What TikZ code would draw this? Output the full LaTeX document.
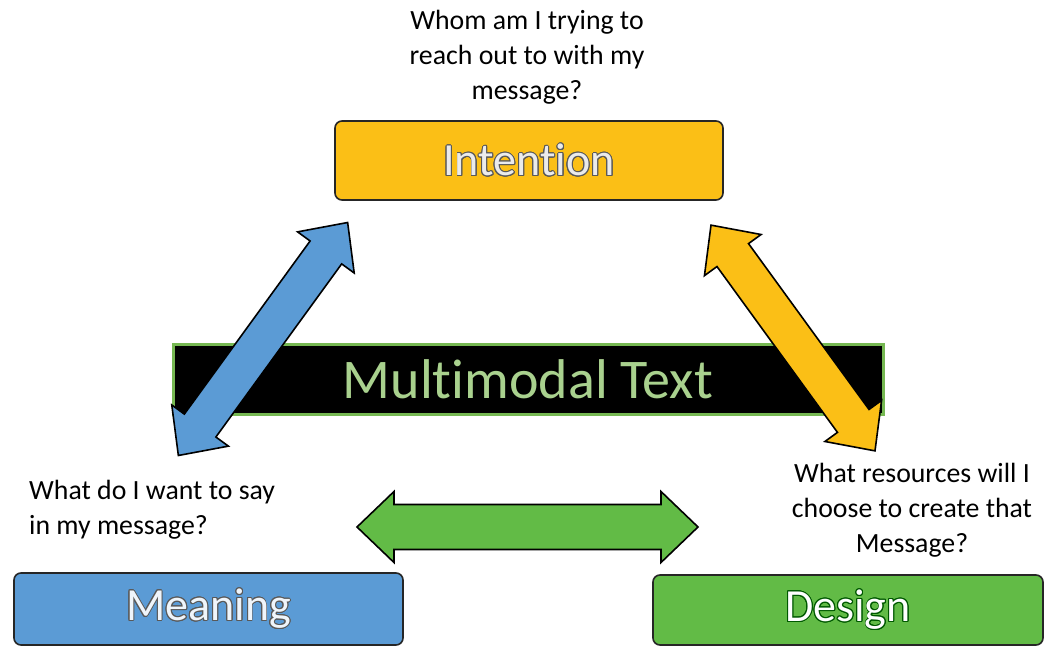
\documentclass[tikz,border=0pt]{standalone}
\usepackage{fontspec}
\setmainfont{Carlito}[Ligatures={NoCommon}]
\usepackage{contour}
\contourlength{0.9pt}
\definecolor{ygold}{HTML}{FBBF16}
\definecolor{mblue}{HTML}{5B9BD5}
\definecolor{dgreen}{HTML}{62BB46}
\definecolor{bgreen}{HTML}{76B852}
\definecolor{tgreen}{HTML}{A9D18E}
\begin{document}
\begin{tikzpicture}[x=1pt,y=-1pt,
  box/.style={draw=black!85, line width=1.6pt, rounded corners=7pt, minimum width=388pt, minimum height=76pt, inner sep=0pt, font=\fontsize{46}{50}\selectfont},
  q/.style={font=\fontsize{27.8}{35}\selectfont, align=center, inner sep=0pt},
  arr/.style={draw=black, line width=1.6pt, line join=miter},
  pics/dblarrow/.style args={#1/#2/#3/#4}{code={
    \path[pic actions] ({-#1/2},0) -- ({-#1/2+#4},#3) -- ({-#1/2+#4},#2) -- ({#1/2-#4},#2) -- ({#1/2-#4},#3) -- ({#1/2},0)
      -- ({#1/2-#4},{-#3}) -- ({#1/2-#4},{-#2}) -- ({-#1/2+#4},{-#2}) -- ({-#1/2+#4},{-#3}) -- cycle;
  }}]
\useasboundingbox (0,0) rectangle (1049,647);

\node[draw=bgreen, line width=3pt, fill=black, minimum width=710pt, minimum height=70pt, inner sep=0pt, text=tgreen, font=\fontsize{56}{60}\selectfont] (mt) at (528,379) {Multimodal Text};

\node[box, fill=ygold, minimum height=79pt] (int) at (529,160.5) {\contour{black!65}{\textcolor{white!92!black}{Intention}}};
\node[box, fill=mblue, minimum width=389pt, minimum height=72pt] (mea) at (208.5,609) {\contour{black!65}{\textcolor{white!90!mblue}{Meaning}}};
\node[box, fill=dgreen, minimum width=390pt, minimum height=70pt] (des) at (848,610) {\contour{green!35!black}{\textcolor{white}{Design}}};

\pic[arr, fill=mblue, rotate=54] (barrow) at (263,339) {dblarrow={288/19.5/35/37}};
\pic[arr, fill=ygold, rotate=-54] (yarrow) at (793,338) {dblarrow={279/19.5/35/37}};
\pic[arr, fill=dgreen] (garrow) at (527.5,527) {dblarrow={341/22.5/35.5/37}};

\node[q] (qi) at (527,57) {Whom am I trying to\\reach out to with my\\message?};
\node[q, align=left, anchor=west] (qm) at (29,510) {What do I want to say\\in my message?};
\node[q] (qd) at (912,510) {What resources will I\\choose to create that\\Message?};
\end{tikzpicture}
\end{document}
